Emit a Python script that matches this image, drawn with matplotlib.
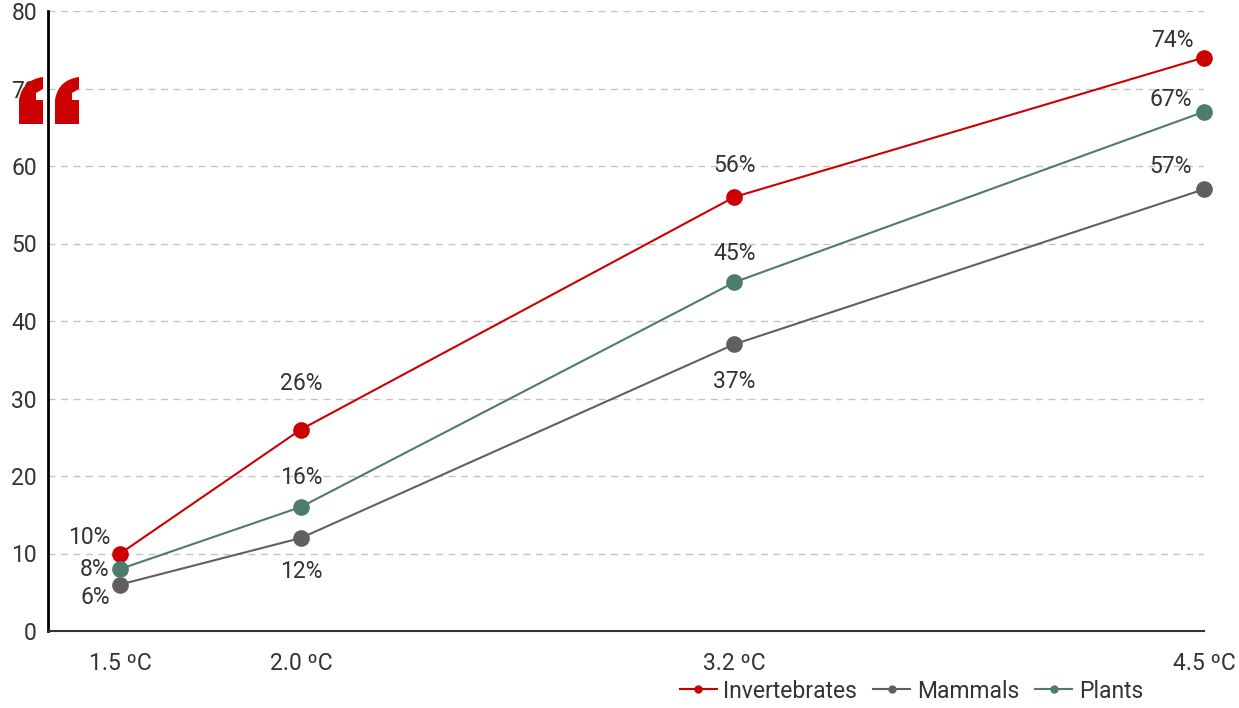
import matplotlib
matplotlib.use("Agg")
import matplotlib.pyplot as plt
from matplotlib.path import Path
from matplotlib.patches import PathPatch

plt.rcParams['font.family'] = ['Roboto', 'DejaVu Sans']

# warming scenarios (degrees C) and share of species losing half their range (%)
warming = [1.5, 2.0, 3.2, 4.5]
tick_labels = ["1.5 ºC", "2.0 ºC", "3.2 ºC", "4.5 ºC"]
invertebrates = [10, 26, 56, 74]
mammals = [6, 12, 37, 57]
plants = [8, 16, 45, 67]

RED = "#cc0000"
GREY = "#606060"
GREEN = "#4e7c6a"
TXT = "#333333"
FS = 16.5

W, H = 1239, 708
fig = plt.figure(figsize=(W / 100, H / 100), dpi=100)
ax = fig.add_axes([48 / W, 1 - 631 / H, (1204 - 48) / W, 620 / H])

# value label placement: (dx px, dy px, ha) for each point
label_pos = {
    "Invertebrates": [(-10, 16, "right"), (0, 46, "center"), (0, 32, "center"), (-10, 17, "right")],
    "Mammals": [(-10, -13, "right"), (0, -34, "center"), (0, -37, "center"), (-12, 23, "right")],
    "Plants": [(-11, 0, "right"), (0, 30, "center"), (0, 29, "center"), (-12, 12, "right")],
}

series = [
    ("Invertebrates", invertebrates, RED),
    ("Mammals", mammals, GREY),
    ("Plants", plants, GREEN),
]

for name, vals, col in series:
    ax.plot(warming, vals, color=col, lw=1.5, marker="o", ms=12,
            markeredgewidth=0, label=name, zorder=3, clip_on=False)

for name, vals, col in series:
    for x, v, (dx, dy, ha) in zip(warming, vals, label_pos[name]):
        ax.annotate(f"{v}%", (x, v), xytext=(dx * 0.72, dy * 0.72),
                    textcoords="offset points", ha=ha, va="center",
                    fontsize=FS, color=TXT)

ax.set_xlim(1.3, 4.5)
ax.set_ylim(0, 80)
ax.set_yticks(range(0, 81, 10))
ax.set_xticks(warming)
ax.set_xticklabels(tick_labels)
ax.tick_params(axis="both", length=0, labelsize=FS, labelcolor=TXT)
ax.tick_params(axis="x", pad=15)
ax.tick_params(axis="y", pad=8)

ax.yaxis.grid(True, ls=(0, (5, 4)), color="#c4c4c4", lw=1)
ax.set_axisbelow(True)
for s in ["top", "right"]:
    ax.spines[s].set_visible(False)
ax.spines["left"].set_color("black")
ax.spines["left"].set_linewidth(2)
ax.spines["bottom"].set_color(TXT)
ax.spines["bottom"].set_linewidth(1.5)

leg_handles = [plt.Line2D([], [], color=c, lw=1.5, marker="o", ms=6, markeredgewidth=0)
               for _, _, c in series]
fig.legend(leg_handles, [s[0] for s in series], loc="center right",
           bbox_to_anchor=(1143 / W, 1 - 691 / H), ncol=3, frameon=False,
           fontsize=FS, handlelength=1.6, handletextpad=0.3, columnspacing=0.7,
           borderpad=0, borderaxespad=0, labelcolor=TXT)


# big red opening quote mark, two blocky hooks drawn in pixel coordinates
def px(x, y):
    return (x / W, 1 - y / H)


def hook(x0):
    pts = [(x0, 124), (x0 + 24, 124), (x0 + 24, 100), (x0 + 17, 100),
           (x0 + 17, 93), (x0 + 24, 89), (x0 + 24, 77), (x0 + 3, 80),
           (x0, 100), (x0, 124)]
    codes = [Path.MOVETO, Path.LINETO, Path.LINETO, Path.LINETO,
             Path.LINETO, Path.LINETO, Path.LINETO, Path.CURVE3,
             Path.CURVE3, Path.CLOSEPOLY]
    return Path([px(*p) for p in pts], codes)


for x0 in (19, 55):
    fig.add_artist(PathPatch(hook(x0), facecolor=RED, edgecolor="none",
                             transform=fig.transFigure, zorder=10))

fig.savefig("out.png", dpi=100)
